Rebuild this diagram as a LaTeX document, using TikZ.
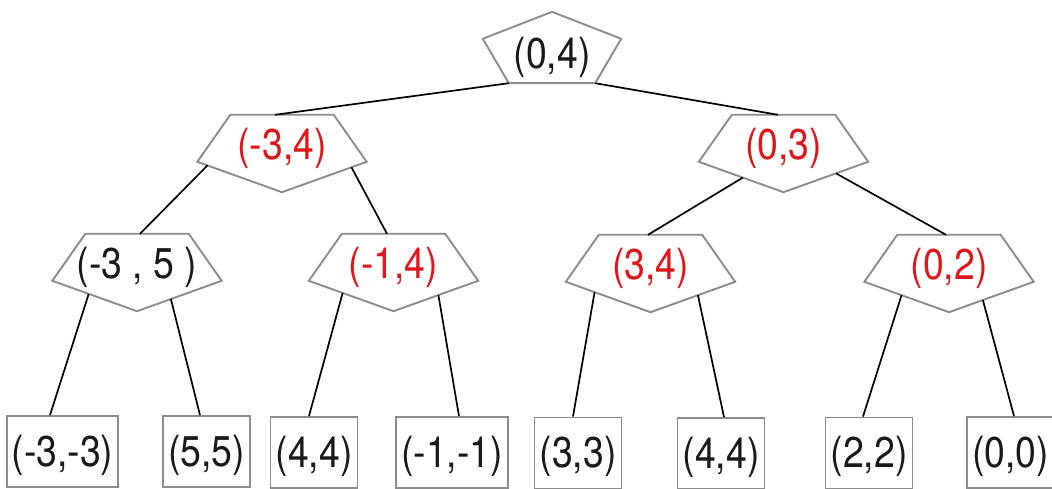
\documentclass[tikz,border=0pt]{standalone}
\usepackage{fontspec}
\setmainfont{TeX Gyre Heros}[FakeStretch=0.87]
\usepackage{xcolor}
\usetikzlibrary{calc}
\definecolor{scorered}{RGB}{222, 22, 28}
\definecolor{edgegray}{RGB}{140, 140, 140}
\definecolor{inkblack}{RGB}{25, 25, 25}

\begin{document}
\begin{tikzpicture}[
        x=1bp, y=-1bp,
        every node/.style = {font=\fontsize{43bp}{48bp}\selectfont, text=inkblack},
        pent/.style = {rectangle, inner sep=0pt, minimum width=169bp, minimum height=77bp, text height=45bp, text depth=32bp},
        rootpent/.style = {rectangle, inner sep=0pt, minimum width=138bp, minimum height=71bp, text height=57bp, text depth=14bp},
        leaf/.style = {draw=edgegray, line width=1.9bp, rectangle, inner xsep=5bp, inner ysep=0pt, minimum width=87bp, minimum height=71bp, text height=50bp, text depth=21bp},
        outline/.style = {draw=edgegray, line width=1.9bp, line join=miter},
        link/.style = {draw=black, line width=1.7bp}
    ]
        \useasboundingbox (0,0) rectangle (1052,489);

        % Nodes
        \node [rootpent] (root) at (552,47.5) {(0,4)};
        \node [pent, text=scorered] (l) at (282,153.5) {(-3,4)};
        \node [pent, text=scorered] (r) at (783.5,153.5) {(0,3)};
        \node [pent] (ll) at (137,272.5) {(-3 , 5 )};
        \node [pent, text=scorered] (lr) at (393.5,272.5) {(-1,4)};
        \node [pent, text=scorered] (rl) at (650.5,273.5) {(3,4)};
        \node [pent, text=scorered] (rr) at (949,273.5) {(0,2)};

        \node [leaf] (b1) at (62.5,451.5) {(-3,-3)};
        \node [leaf] (b2) at (206.5,451.5) {(5,5)};
        \node [leaf] (b3) at (314,452.5) {(4,4)};
        \node [leaf] (b4) at (452,452.5) {(-1,-1)};
        \node [leaf] (b5) at (578,453) {(3,3)};
        \node [leaf] (b6) at (721,453.5) {(4,4)};
        \node [leaf] (b7) at (869,453) {(2,2)};
        \node [leaf] (b8) at (1010.5,452.5) {(0,0)};

        % Pentagon outlines
        \coordinate (root-sw) at ($(root.south west)+(26,0)$);
        \coordinate (root-se) at ($(root.south east)+(-26,0)$);
        \draw [outline] (root.north) -- ($(root.north east)+(0,27)$) -- (root-se) -- (root-sw) -- ($(root.north west)+(0,27)$) -- cycle;
        \foreach \n in {l,r,ll,lr,rl,rr}{
            \coordinate (\n-w) at ($(\n.north west)+(0,47)$);
            \coordinate (\n-e) at ($(\n.north east)+(0,47)$);
            \draw [outline] ($(\n.north west)+(33,0)$) -- ($(\n.north east)+(-33,0)$) -- (\n-e) -- (\n.south) -- (\n-w) -- cycle;
        }

        % Connectors
        \draw [link] (root-sw) -- ($(l.north)+(-7,0)$);
        \draw [link] (root-se) -- ($(r.north)+(-5.5,0)$);
        \draw [link] ($(l-w)!0.12!(l.south)$) -- ($(ll.north)+(3,0)$);
        \draw [link] ($(l-e)!0.18!(l.south)$) -- ($(lr.north)+(-6.5,0)$);
        \draw [link] ($(r-w)!0.52!(r.south)$) -- ($(rl.north)+(-2.5,0)$);
        \draw [link] ($(r-e)!0.38!(r.south)$) -- ($(rr.north)+(-3,0)$);
        \draw [link] ($(ll-w)!0.43!(ll.south)$) -- ($(b1.north)+(-12.5,0)$);
        \draw [link] ($(ll-e)!0.6!(ll.south)$) -- ($(b2.north)+(-6.5,0)$);
        \draw [link] ($(lr-w)!0.4!(lr.south)$) -- ($(b3.north)+(-5,0)$);
        \draw [link] ($(lr-e)!0.47!(lr.south)$) -- ($(b4.north)+(7,0)$);
        \draw [link] ($(rl-w)!0.34!(rl.south)$) -- ($(b5.north)+(-5,0)$);
        \draw [link] ($(rl-e)!0.44!(rl.south)$) -- ($(b6.north)+(3,0)$);
        \draw [link] ($(rr-w)!0.44!(rr.south)$) -- ($(b7.north)+(-6,0)$);
        \draw [link] ($(rr-e)!0.6!(rr.south)$) -- ($(b8.north)+(3.5,0)$);
    \end{tikzpicture}
\end{document}
